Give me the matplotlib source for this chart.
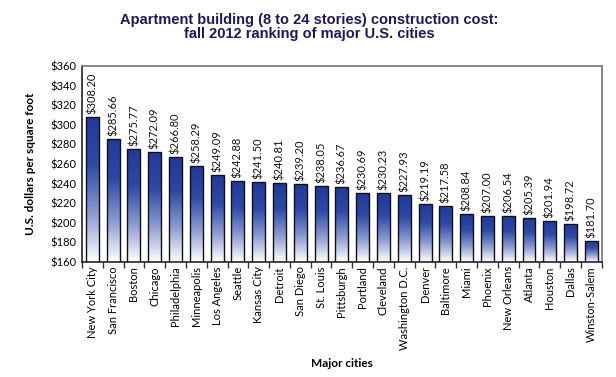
import numpy as np
import matplotlib
matplotlib.use("Agg")
import matplotlib.pyplot as plt
from matplotlib.colors import LinearSegmentedColormap

cities = ['New York City', 'San Francisco', 'Boston', 'Chicago', 'Philadelphia',
          'Minneapolis', 'Los Angeles', 'Seattle', 'Kansas City', 'Detroit',
          'San Diego', 'St. Louis', 'Pittsburgh', 'Portland', 'Cleveland',
          'Washington D.C.', 'Denver', 'Baltimore', 'Miami', 'Phoenix',
          'New Orleans', 'Atlanta', 'Houston', 'Dallas', 'Winston-Salem']
cost = [308.20, 285.66, 275.77, 272.09, 266.80, 258.29, 249.09, 242.88, 241.50,
        240.81, 239.20, 238.05, 236.67, 230.69, 230.23, 227.93, 219.19, 217.58,
        208.84, 207.00, 206.54, 205.39, 201.94, 198.72, 181.70]
yticks = np.arange(160, 361, 20)

plt.rcParams['font.family'] = ['Lato', 'DejaVu Sans']

fig = plt.figure(figsize=(6.16, 3.77), dpi=100)
ax = fig.add_axes([0.133, 0.305, 0.844, 0.52])

x = np.arange(len(cities))
bars = ax.bar(x, cost, width=0.62, bottom=0, color='none', edgecolor='#111111',
              linewidth=1.0, zorder=3)

# gradient fill: dark blue at top fading to white at the bottom
cmap = LinearSegmentedColormap.from_list('bluefade', ['#ffffff', '#8c9ad2', '#2d4aa6', '#22389a'])
grad = np.linspace(0, 1, 256).reshape(-1, 1)
for b, v in zip(bars, cost):
    x0 = b.get_x()
    im = ax.imshow(grad, cmap=cmap, origin='lower', aspect='auto',
                   extent=(x0, x0 + b.get_width(), 160, v), zorder=2)
    im.set_clip_path(b)
    ax.text(b.get_x() + b.get_width() / 2, v + 3, '$%.2f' % v, rotation=90,
            ha='center', va='bottom', fontsize=8, color='#111111')

ax.set_xlim(-0.5, len(cities) - 0.5)
ax.set_ylim(160, 360)
ax.set_yticks(yticks)
ax.set_yticklabels(['$%d' % t for t in yticks], fontsize=8)
ax.set_xticks(x)
ax.set_xticklabels(cities, rotation=90, fontsize=8)
ax.set_xticks(np.arange(-0.5, len(cities), 1), minor=True)
ax.tick_params(axis='x', which='major', length=0, pad=3)
ax.tick_params(axis='x', which='minor', length=4, width=1, color='#333333')
ax.tick_params(axis='y', length=0, pad=4)

for s in ax.spines.values():
    s.set_color('#777777')
    s.set_linewidth(1.2)
ax.spines['bottom'].set_color('#222222')
ax.spines['left'].set_color('#222222')

ax.set_ylabel('U.S. dollars per square foot', fontsize=8.5, fontweight='bold', labelpad=10)
ax.set_xlabel('Major cities', fontsize=8.5, fontweight='bold', labelpad=6)

fig.text(0.502, 0.965, 'Apartment building (8 to 24 stories) construction cost:\nfall 2012 ranking of major U.S. cities',
         ha='center', va='top', fontsize=10.5, fontweight='bold', color='#1c1a5c',
         family=['Liberation Sans', 'DejaVu Sans'], linespacing=0.95)

fig.savefig('out.png', dpi=100)
